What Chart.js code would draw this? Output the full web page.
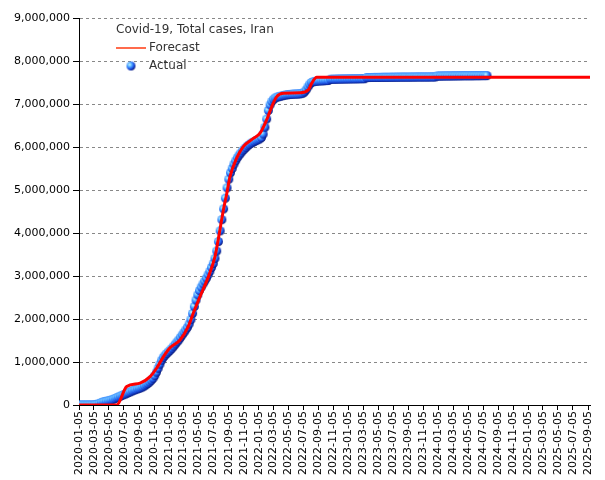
<!DOCTYPE html>
<html>
<head>
<meta charset="utf-8">
<script src="https://cdn.jsdelivr.net/npm/chart.js@4"></script>
<style>
  html, body { margin: 0; padding: 0; background: #fff; }
</style>
</head>
<body>
<canvas id="covidChart" width="605" height="480"></canvas>
<script>
const chartTitle = 'Covid-19, Total cases, Iran';
const startDate = '2020-01-05';

// x tick labels (every two months)
const tickLabels = [
    '2020-01-05', '2020-03-05', '2020-05-05', '2020-07-05', '2020-09-05', '2020-11-05',
    '2021-01-05', '2021-03-05', '2021-05-05', '2021-07-05', '2021-09-05', '2021-11-05',
    '2022-01-05', '2022-03-05', '2022-05-05', '2022-07-05', '2022-09-05', '2022-11-05',
    '2023-01-05', '2023-03-05', '2023-05-05', '2023-07-05', '2023-09-05', '2023-11-05',
    '2024-01-05', '2024-03-05', '2024-05-05', '2024-07-05', '2024-09-05', '2024-11-05',
    '2025-01-05', '2025-03-05', '2025-05-05', '2025-07-05', '2025-09-05'
];
const axisEndDate = '2025-09-13';

// actual total cases, one value per week from 2020-01-05, in thousands
const actualThousands = [
    0, 0, 0, 0, 0, 0, 0, 0, 1, 7,
    14, 22, 38, 58, 72, 82, 90, 97, 108, 120,
    134, 151, 172, 187, 205, 223, 240, 257, 274, 291,
    309, 329, 345, 359, 374, 387, 402, 422, 446, 472,
    500, 535, 575, 620, 682, 762, 854, 949, 1041, 1108,
    1158, 1200, 1237, 1276, 1319, 1367, 1418, 1467, 1515, 1574,
    1632, 1690, 1748, 1808, 1885, 1985, 2130, 2290, 2440, 2560,
    2660, 2740, 2815, 2880, 2950, 3030, 3110, 3200, 3290, 3410,
    3580, 3800, 4050, 4310, 4560, 4810, 5050, 5250, 5400, 5500,
    5600, 5680, 5750, 5810, 5860, 5910, 5950, 5990, 6030, 6060,
    6090, 6110, 6130, 6150, 6170, 6190, 6220, 6300, 6460, 6650,
    6850, 6980, 7060, 7110, 7140, 7160, 7170, 7180, 7190, 7200,
    7210, 7215, 7220, 7225, 7228, 7230, 7232, 7234, 7236, 7240,
    7250, 7280, 7330, 7400, 7460, 7500, 7515, 7525, 7530, 7535,
    7538, 7540, 7542, 7544, 7546, 7548, 7575, 7576, 7577, 7578,
    7579, 7580, 7581, 7582, 7582, 7583, 7584, 7585, 7585, 7586,
    7587, 7587, 7588, 7588, 7589, 7589, 7590, 7615, 7616, 7617,
    7617, 7618, 7618, 7619, 7619, 7620, 7620, 7621, 7621, 7622,
    7622, 7623, 7623, 7623, 7624, 7624, 7624, 7625, 7625, 7625,
    7626, 7626, 7626, 7627, 7627, 7627, 7628, 7628, 7628, 7628,
    7629, 7629, 7629, 7629, 7630, 7630, 7630, 7630, 7650, 7651,
    7651, 7652, 7652, 7653, 7653, 7654, 7654, 7655, 7655, 7655,
    7656, 7656, 7656, 7657, 7657, 7657, 7658, 7658, 7658, 7658,
    7659, 7659, 7659, 7659, 7660, 7660, 7660, 7660
];

// forecast curve
const forecastDates = [
    '2020-01-05', '2020-06-06', '2020-07-17', '2020-09-09', '2020-10-20', '2020-11-16',
    '2020-12-13', '2021-01-09', '2021-02-19', '2021-03-24', '2021-04-14', '2021-05-11',
    '2021-06-14', '2021-07-11', '2021-07-24', '2021-08-14', '2021-08-28', '2021-09-10',
    '2021-10-07', '2021-11-03', '2021-12-14', '2022-01-10', '2022-02-06', '2022-02-27',
    '2022-03-19', '2022-04-15', '2022-06-22', '2022-07-26', '2022-08-08', '2022-08-29',
    '2025-09-13'
];
const forecastThousands = [
    0, 0, 430, 510, 660, 860,
    1120, 1330, 1510, 1820, 2140, 2520,
    2980, 3450, 3840, 4530, 4920, 5310,
    5740, 6010, 6200, 6320, 6630, 6940,
    7170, 7250, 7260, 7330, 7480, 7620,
    7620
];

const DAY = 86400000;
const dayOf = d => (Date.parse(d) - Date.parse(startDate)) / DAY;

// shaded ball used for the Actual markers, lit from the upper left
function makeSphere(r) {
    const c = document.createElement('canvas');
    c.width = c.height = 2 * r + 2;
    const g = c.getContext('2d');
    const cx = r + 1, cy = r + 1;
    const lx = cx - r * 0.3, ly = cy - r * 0.3;
    const grad = g.createRadialGradient(lx, ly, 0, lx, ly, r * 1.45);
    grad.addColorStop(0, '#e0fcff');
    grad.addColorStop(0.2, '#7ccfff');
    grad.addColorStop(0.45, '#3a8cff');
    grad.addColorStop(0.7, '#1a48d8');
    grad.addColorStop(1, '#000a60');
    g.fillStyle = grad;
    g.beginPath();
    g.arc(cx, cy, r, 0, Math.PI * 2);
    g.fill();
    return c;
}
const sphere = makeSphere(4.5);

const legendBox = {
    id: 'legendBox',
    afterDraw(chart) {
        const ctx = chart.ctx;
        const sets = chart.data.datasets;
        ctx.save();
        ctx.font = '12px "DejaVu Sans"';
        ctx.fillStyle = '#333';
        ctx.textBaseline = 'middle';
        ctx.fillText(chartTitle, 116, 30);
        ctx.strokeStyle = '#ff3a10';
        ctx.lineWidth = 1.5;
        ctx.beginPath();
        ctx.moveTo(116, 48);
        ctx.lineTo(146, 48);
        ctx.stroke();
        ctx.fillText(sets[0].label, 149, 48);
        ctx.drawImage(sphere, 131 - sphere.width / 2, 66 - sphere.height / 2);
        ctx.fillText(sets[1].label, 149, 66);
        ctx.restore();
    }
};

const tickFont = { family: 'DejaVu Sans', size: 11 };

new Chart(document.getElementById('covidChart'), {
    type: 'line',
    data: {
        datasets: [{
            label: 'Forecast',
            data: forecastDates.map((d, i) => ({ x: dayOf(d), y: forecastThousands[i] * 1000 })),
            borderColor: '#ff0000',
            borderWidth: 3,
            pointRadius: 0,
            cubicInterpolationMode: 'monotone',
            order: 0
        }, {
            label: 'Actual',
            data: actualThousands.map((v, i) => ({ x: i * 7, y: v * 1000 })),
            showLine: false,
            pointStyle: sphere,
            pointRadius: 4.5,
            order: 1
        }]
    },
    options: {
        responsive: false,
        animation: false,
        devicePixelRatio: 1,
        layout: { padding: { top: 18, right: 15, left: 0, bottom: 0 } },
        plugins: {
            legend: { display: false },
            tooltip: { enabled: false }
        },
        scales: {
            x: {
                type: 'linear',
                min: 0,
                max: dayOf(axisEndDate),
                afterBuildTicks: scale => {
                    scale.ticks = tickLabels.map(t => ({ value: dayOf(t) }));
                },
                afterFit: scale => { scale.height = 75; },
                ticks: {
                    autoSkip: false,
                    maxRotation: 90,
                    minRotation: 90,
                    padding: 1,
                    color: '#000',
                    font: tickFont,
                    callback: (value, index) => tickLabels[index]
                },
                grid: {
                    drawOnChartArea: false,
                    tickLength: 5,
                    tickColor: '#000'
                },
                border: { color: '#000', width: 1 }
            },
            y: {
                min: 0,
                max: 9000000,
                afterFit: scale => { scale.width = 79; },
                ticks: {
                    stepSize: 1000000,
                    padding: 3,
                    color: '#000',
                    font: tickFont,
                    callback: v => v.toLocaleString('en-US')
                },
                grid: {
                    color: '#888',
                    tickColor: '#000',
                    tickLength: 6,
                    tickBorderDash: []
                },
                border: { color: '#000', width: 1, dash: [3, 3] }
            }
        }
    },
    plugins: [legendBox]
});
</script>
</body>
</html>
